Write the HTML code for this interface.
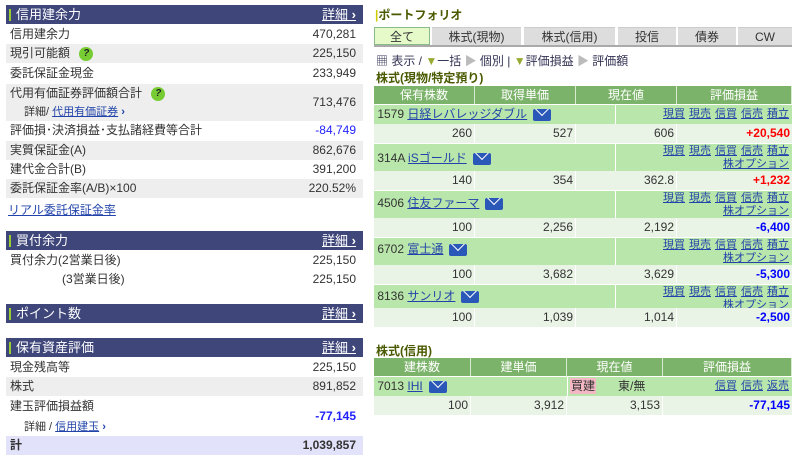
<!DOCTYPE html>
<html><head><meta charset="utf-8"><style>
*{margin:0;padding:0;box-sizing:border-box}
body{width:800px;height:462px;background:#fff;font-family:"Liberation Sans","Noto Sans CJK JP",sans-serif;font-size:12px;color:#333;position:relative;overflow:hidden}
.a{position:absolute}
.hd{position:absolute;left:6px;width:357px;height:19px;background:#3f467a;color:#fff;font-size:13px;line-height:19px;padding-left:10px}
.hd:before{content:"";position:absolute;left:3px;top:4px;width:2px;height:12px;background:#9c3}
.hd span{position:absolute;right:7px;text-decoration:underline}
.hd span:after{content:" ›";text-decoration:none;font-weight:bold}
.r{position:absolute;left:6px;width:357px;line-height:19px;padding:0 8px 0 4px}
.g{background:#eee}
.r b{font-weight:normal;position:absolute;right:7px}
.lk{color:#2244aa;text-decoration:underline}
.q{display:inline-block;width:14px;height:14px;border-radius:7px;background:#7c3;color:#222;font-size:10px;line-height:14px;text-align:center;font-weight:bold;vertical-align:middle;margin-left:6px}
.tab{position:absolute;top:27px;height:18px;background:#ddd;text-align:center;line-height:18px;font-size:12px;border-top:1px solid #ccc}
.th{position:absolute;height:18px;background:#7cb36a;color:#fff;line-height:18px;text-align:center;border-right:1px solid #d8ecd0}
.nm{position:absolute;left:374px;width:418px;background:#b9e6ab;border-top:1px solid #fff;overflow:hidden}
.vl{position:absolute;left:374px;width:418px;height:19px;background:#e9f3e6;line-height:19px}
.vl span{position:absolute;text-align:right;border-right:1px solid #fff;height:19px;padding-right:2px}
.mail{display:inline-block;width:18px;height:12px;background:#2a58b8;vertical-align:middle;margin-left:6px;position:relative;border-radius:2px;overflow:hidden}
.mail:after{content:"";position:absolute;left:4px;top:-5px;width:9px;height:9px;border-right:1px solid #fff;border-bottom:1px solid #fff;transform:rotate(45deg)}
.acts{position:absolute;right:3px;top:1px;text-align:right;line-height:13px;font-size:11px;color:#2244aa}
.acts u{margin-left:4px}
.red{color:#f00;font-weight:bold}.blue{color:#00f;font-weight:bold}
</style></head><body>
<div class="hd" style="top:5px">信用建余力<span>詳細</span></div>
<div class="r" style="top:25px">信用建余力<b>470,281</b></div>
<div class="r g" style="top:44px">現引可能額 <i class="q">?</i><b>225,150</b></div>
<div class="r" style="top:64px">委託保証金現金<b>233,949</b></div>
<div class="r g" style="top:84px;height:37px;line-height:18px">代用有価証券評価額合計 <i class="q">?</i><br><span style="padding-left:14px;font-size:11px">詳細/ <u class="lk">代用有価証券</u> <span style="color:#2244aa;font-weight:bold">›</span></span><b style="top:9px">713,476</b></div>
<div class="r" style="top:121px">評価損･決済損益･支払諸経費等合計<b style="color:#22f">-84,749</b></div>
<div class="r g" style="top:141px">実質保証金(A)<b>862,676</b></div>
<div class="r" style="top:160px">建代金合計(B)<b>391,200</b></div>
<div class="r g" style="top:179px">委託保証金率(A/B)×100<b>220.52%</b></div>
<div class="a lk" style="left:8px;top:201px">リアル委託保証金率</div>
<div class="hd" style="top:231px">買付余力<span>詳細</span></div>
<div class="r" style="top:251px">買付余力(2営業日後)<b>225,150</b></div>
<div class="r" style="top:270px"><span style="padding-left:52px">(3営業日後)</span><b>225,150</b></div>
<div class="hd" style="top:304px">ポイント数<span>詳細</span></div>
<div class="hd" style="top:338px">保有資産評価<span>詳細</span></div>
<div class="r" style="top:358px">現金残高等<b>225,150</b></div>
<div class="r g" style="top:377px">株式<b>891,852</b></div>
<div class="r" style="top:396px;height:40px;line-height:20px">建玉評価損益額<br><span style="padding-left:14px;font-size:11px">詳細 / <u class="lk">信用建玉</u> <span style="color:#2244aa;font-weight:bold">›</span></span><b style="top:10px;color:#22f;font-weight:bold">-77,145</b></div>
<div class="r" style="top:436px;background:#e2e2fa;font-weight:bold">計<b style="font-weight:bold">1,039,857</b></div>

<div class="a" style="left:375px;top:6px;font-weight:bold;color:#4a5a00;font-size:12px"><span style="color:#cc0">|</span>ポートフォリオ</div>
<div class="tab" style="left:374px;width:56px;background:#e6f9c9;border:1px solid #8b8;">全て</div>
<div class="tab" style="left:432px;width:89px">株式(現物)</div>
<div class="tab" style="left:524px;width:91px">株式(信用)</div>
<div class="tab" style="left:618px;width:58px">投信</div>
<div class="tab" style="left:678px;width:58px">債券</div>
<div class="tab" style="left:738px;width:54px">CW</div>
<div class="a" style="left:374px;top:45px;width:418px;height:2px;background:#aaa"></div>
<div class="a" style="left:376px;top:52px;color:#335">▦ 表示 / <span style="color:#9a3">▼</span>一括 <span style="color:#bbb">▶</span> 個別 | <span style="color:#9a3">▼</span>評価損益 <span style="color:#bbb">▶</span> 評価額</div>
<div class="a" style="left:376px;top:69px;font-weight:bold;color:#4a5a00">株式(現物/特定預り)</div>
<div class="th" style="left:374px;top:86px;width:101px">保有株数</div>
<div class="th" style="left:475px;top:86px;width:101px">取得単価</div>
<div class="th" style="left:576px;top:86px;width:101px">現在値</div>
<div class="th" style="left:677px;top:86px;width:115px">評価損益</div>

<div class="nm" style="top:104px;height:20px;line-height:19px">&nbsp;1579 <u class="lk">日経レバレッジダブル</u><i class="mail"></i><div class="a" style="left:241px;top:0;width:1px;height:20px;background:#fff"></div><div class="acts" style="top:3px"><u>現買</u><u>現売</u><u>信買</u><u>信売</u><u>積立</u></div></div>
<div class="vl" style="top:124px"><span style="left:0;width:101px">260</span><span style="left:101px;width:101px">527</span><span style="left:202px;width:101px">606</span><span style="left:303px;width:115px;border:0" class="red">+20,540</span></div>

<div class="nm" style="top:143px;height:28px;line-height:28px">&nbsp;314A <u class="lk">iSゴールド</u><i class="mail"></i><div class="a" style="left:241px;top:0;width:1px;height:28px;background:#fff"></div><div class="acts"><u>現買</u><u>現売</u><u>信買</u><u>信売</u><u>積立</u><br><u>株オプション</u></div></div>
<div class="vl" style="top:171px"><span style="left:0;width:101px">140</span><span style="left:101px;width:101px">354</span><span style="left:202px;width:101px">362.8</span><span style="left:303px;width:115px;border:0" class="red">+1,232</span></div>

<div class="nm" style="top:190px;height:28px;line-height:24px">&nbsp;4506 <u class="lk">住友ファーマ</u><i class="mail"></i><div class="a" style="left:241px;top:0;width:1px;height:28px;background:#fff"></div><div class="acts"><u>現買</u><u>現売</u><u>信買</u><u>信売</u><u>積立</u><br><u>株オプション</u></div></div>
<div class="vl" style="top:218px"><span style="left:0;width:101px">100</span><span style="left:101px;width:101px">2,256</span><span style="left:202px;width:101px">2,192</span><span style="left:303px;width:115px;border:0" class="blue">-6,400</span></div>

<div class="nm" style="top:237px;height:28px;line-height:22px">&nbsp;6702 <u class="lk">富士通</u><i class="mail"></i><div class="a" style="left:241px;top:0;width:1px;height:28px;background:#fff"></div><div class="acts"><u>現買</u><u>現売</u><u>信買</u><u>信売</u><u>積立</u><br><u>株オプション</u></div></div>
<div class="vl" style="top:265px"><span style="left:0;width:101px">100</span><span style="left:101px;width:101px">3,682</span><span style="left:202px;width:101px">3,629</span><span style="left:303px;width:115px;border:0" class="blue">-5,300</span></div>

<div class="nm" style="top:284px;height:24px;line-height:22px">&nbsp;8136 <u class="lk">サンリオ</u><i class="mail"></i><div class="a" style="left:241px;top:0;width:1px;height:24px;background:#fff"></div><div class="acts"><u>現買</u><u>現売</u><u>信買</u><u>信売</u><u>積立</u><br><u>株オプション</u></div></div>
<div class="vl" style="top:308px"><span style="left:0;width:101px">100</span><span style="left:101px;width:101px">1,039</span><span style="left:202px;width:101px">1,014</span><span style="left:303px;width:115px;border:0" class="blue">-2,500</span></div>

<div class="a" style="left:376px;top:342px;font-weight:bold;color:#4a5a00">株式(信用)</div>
<div class="th" style="left:374px;top:358px;width:97px">建株数</div>
<div class="th" style="left:471px;top:358px;width:96px">建単価</div>
<div class="th" style="left:567px;top:358px;width:96px">現在値</div>
<div class="th" style="left:663px;top:358px;width:129px">評価損益</div>
<div class="nm" style="top:376px;height:20px;line-height:19px">&nbsp;7013 <u class="lk">IHI</u><i class="mail"></i><div class="a" style="left:193px;top:0;width:1px;height:20px;background:#fff"></div><span class="a" style="left:196px;top:1px;background:#f4b8c4;line-height:16px;padding:0 1px">買建</span><span class="a" style="left:244px;top:0">東/無</span><div class="acts" style="top:3px"><u>信買</u><u>信売</u><u>返売</u></div></div>
<div class="vl" style="top:396px"><span style="left:0;width:97px">100</span><span style="left:97px;width:96px">3,912</span><span style="left:193px;width:96px">3,153</span><span style="left:289px;width:129px;border:0" class="blue">-77,145</span></div>
</body></html>
